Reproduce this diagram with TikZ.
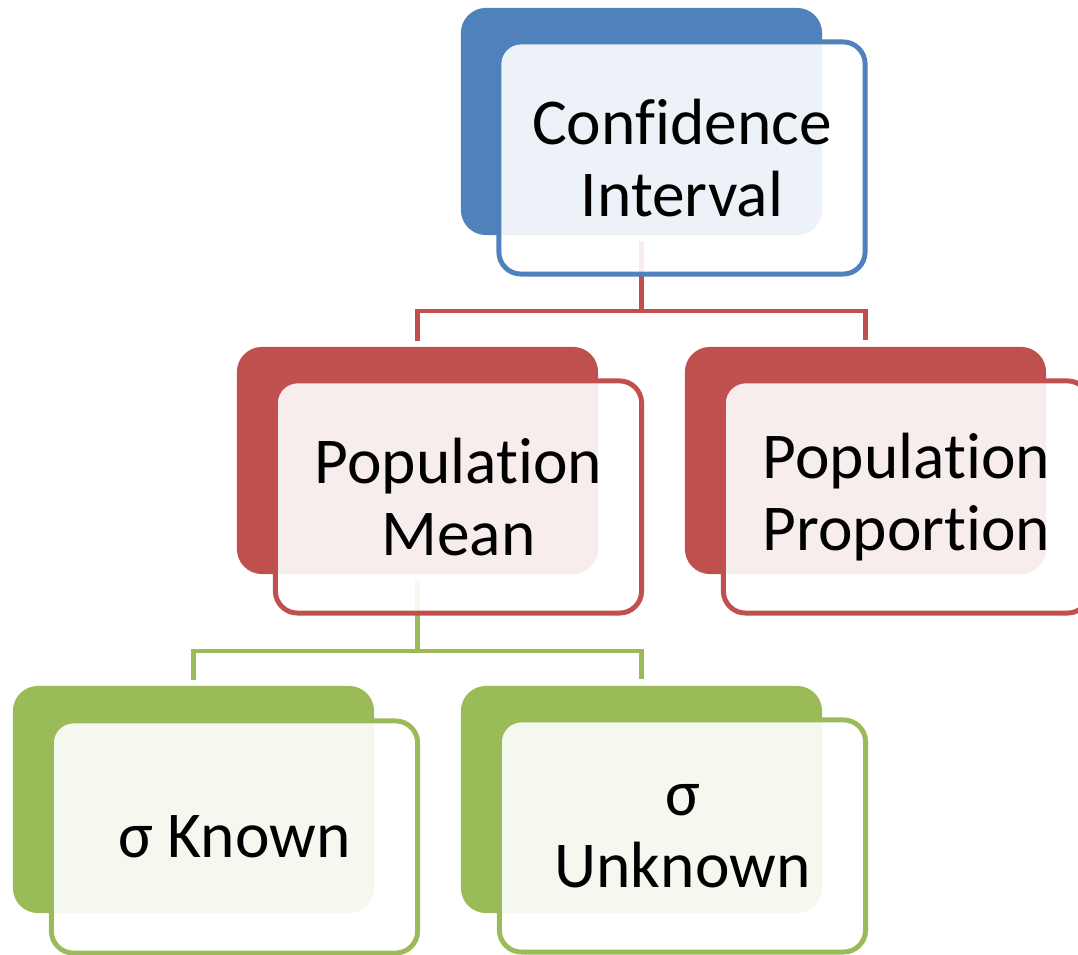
\documentclass[tikz,border=0pt]{standalone}
\usepackage{fontspec}
\setmainfont{Carlito}[Ligatures={NoCommon,NoContextual,NoRare},Contextuals=NoAlternate]
\definecolor{ciblue}{HTML}{4F81BD}
\definecolor{cired}{HTML}{C0504D}
\definecolor{cigreen}{HTML}{9BBB59}
\begin{document}
\begin{tikzpicture}[x=0.01cm, y=-0.01cm,
    backbox/.style={fill=#1, rounded corners=0.25cm, minimum width=3.61cm,
      minimum height=2.27cm, inner sep=0pt},
    frontbox/.style={draw=#1, line width=1.4pt, fill=white, fill opacity=0.9,
      text opacity=1, rounded corners=0.22cm, minimum width=3.66cm,
      minimum height=2.32cm, inner sep=0pt, align=center,
      font=\fontsize{18.6}{20.6}\selectfont},
    link/.style={draw=#1, line width=1.4pt}]
  \useasboundingbox (0,0) rectangle (1078,955);
  \clip (0,0) rectangle (1078,955);
  \path
    (641.5,121.5) node[backbox=ciblue] (ciback){}
    (417.5,460.5) node[backbox=cired] (meanback){}
    (865.5,460.5) node[backbox=cired] (propback){}
    (193.5,799.5) node[backbox=cigreen] (knownback){}
    (641.5,799.5) node[backbox=cigreen] (unknownback){};
  \coordinate (cijoin) at (641.5,311);
  \coordinate (meanjoin) at (417.5,651);
  \begin{scope}[shorten <=0.05cm]
    \draw[link=cired] (ciback.south) to (cijoin);
    \draw[link=cired, shorten >=0.06cm] (meanback.north) |- (cijoin) -| (propback.north);
    \draw[link=cigreen] (meanback.south) to (meanjoin);
    \draw[link=cigreen, shorten >=0.06cm] (knownback.north) |- (meanjoin) -| (unknownback.north);
  \end{scope}
  \path
    (682,158) node[frontbox=ciblue] (ci){Conf\kern0pt idence\\Interval}
    (458.5,497) node[frontbox=cired] (mean){Populat\kern0pt ion\\Mean}
    (906.5,497) node[frontbox=cired] (prop){Populat\kern0pt ion\\Proport\kern0pt ion}
    (234.5,837) node[frontbox=cigreen] (known){σ Known}
    (682.5,836) node[frontbox=cigreen] (unknown){σ\\Unknown};
\end{tikzpicture}
\end{document}
